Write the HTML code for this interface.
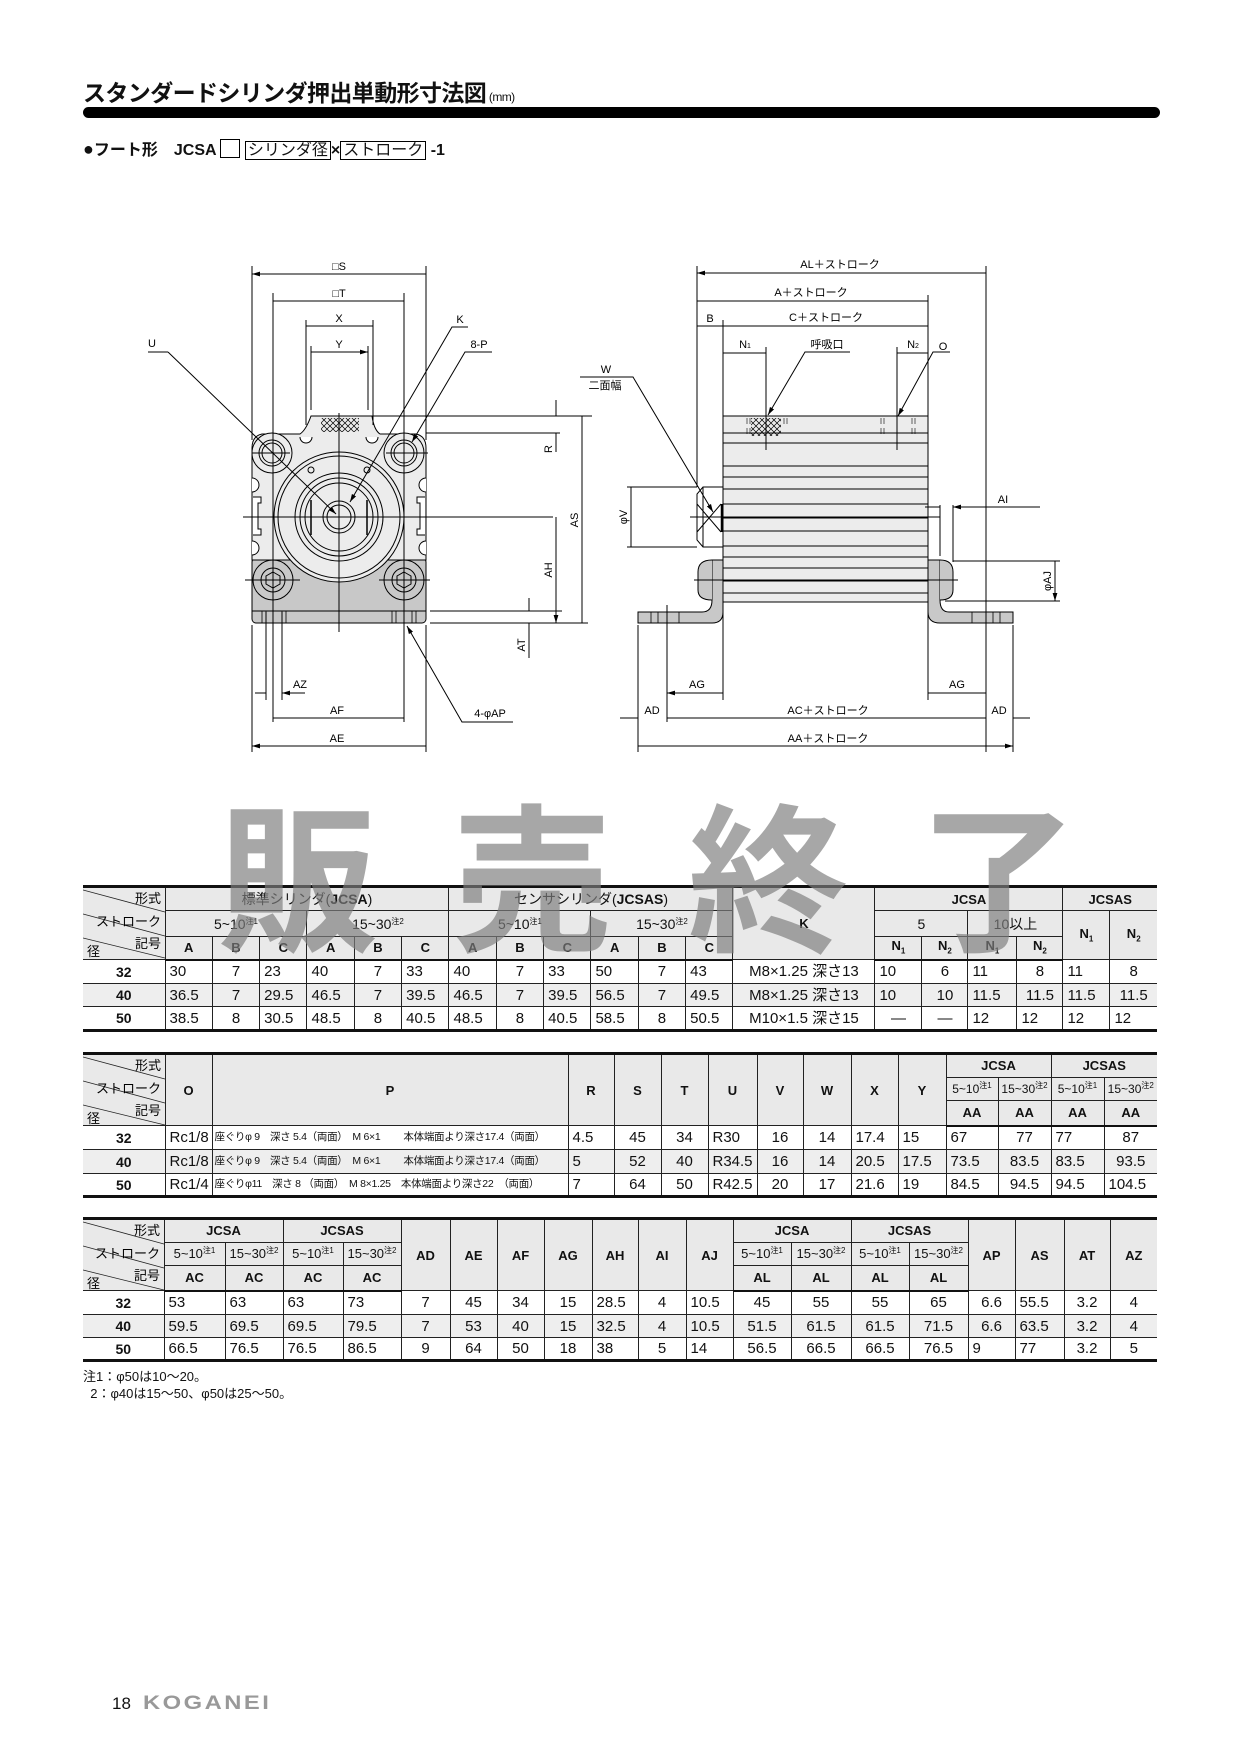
<!DOCTYPE html>
<html><head><meta charset="utf-8"><style>
body{margin:0;background:#fff;}
#pg{position:relative;width:1240px;height:1754px;overflow:hidden;background:#fff;font-family:"Liberation Sans","Noto Sans CJK JP",sans-serif;color:#111;}
.abs{position:absolute;}
table{position:absolute;border-collapse:collapse;table-layout:fixed;font-family:"Liberation Sans","Noto Sans CJK JP",sans-serif;}
td{border:1px solid #222;padding:0 4px;font-size:15px;white-space:nowrap;overflow:hidden;line-height:1;}
tr.h td{background:#e9e9e9;font-weight:bold;font-size:13px;text-align:center;}
tr.h td.n{font-weight:normal;font-size:14px;}
tr.g td{background:#eeeeee;}
td.d{font-weight:bold;text-align:center;font-size:14px;}
td.c{text-align:center;}
td.dg{padding:0;position:relative;background:#e9e9e9;}
td.dg svg{font-weight:normal;}
td.p{font-size:10.5px;letter-spacing:-0.3px;padding:0 2px;}
sup{font-size:8px;vertical-align:5px;}
.t{border-top:3px solid #111;}
.b td{border-bottom:3px solid #111;}
.hb td{border-bottom:2.5px solid #111;}
td:first-child{border-left:none;}
td:last-child{border-right:none;}
.wm{position:absolute;font-family:"Noto Sans CJK JP",sans-serif;font-weight:bold;font-size:160px;line-height:1;color:rgba(125,125,125,0.68);}
</style></head><body><div id="pg">

<div class="abs" style="left:83px;top:74px;font-size:23px;letter-spacing:-0.6px;font-weight:bold;white-space:nowrap;">スタンダードシリンダ押出単動形寸法図<span style="font-size:12px;font-weight:normal;"> (mm)</span></div>
<div class="abs" style="left:83px;top:107px;width:1077px;height:11px;background:#000;border-radius:6px;"></div>
<div class="abs" style="left:83px;top:136px;font-size:16px;font-weight:bold;white-space:nowrap;"><span style="font-size:18px">●</span>フート形　JCSA <span style="display:inline-block;width:18px;height:17px;border:1px solid #000;vertical-align:-3px;"></span> <span style="border:1px solid #000;padding:0 2px;font-weight:normal;">シリンダ径</span>×<span style="border:1px solid #000;padding:0 2px;font-weight:normal;">ストローク</span> -1</div>

<svg class="abs" style="left:0;top:0" width="1240" height="800" viewBox="0 0 1240 800" font-family="Liberation Sans, Noto Sans CJK JP, sans-serif" font-size="11">
<defs>
<marker id="a" viewBox="0 0 10 6" refX="10" refY="3" markerWidth="8" markerHeight="5" orient="auto-start-reverse" markerUnits="userSpaceOnUse"><path d="M0,0L10,3L0,6z" fill="#000"/></marker>
<pattern id="hx" width="6" height="6" patternUnits="userSpaceOnUse"><path d="M0,0L6,6M6,0L0,6" stroke="#000" stroke-width="0.7"/></pattern>
</defs>
<g stroke="#000" stroke-width="1" fill="none">
<!-- LEFT VIEW -->
<rect x="252" y="558" width="174" height="65" fill="#c8c8c8" rx="4"/>
<line x1="252" y1="611" x2="426" y2="611"/>
<path d="M262,611V623M266,611V623M282,611V623M286,611V623M392,611V623M396,611V623M412,611V623M416,611V623" stroke-width="0.8"/>
<path d="M252,448 Q252,436 262,434 L300,434 Q306,430 311,416 L372,416 Q374,430 380,434 L416,434 Q426,436 426,448 L426,560 L252,560 Z" fill="#ececec"/>
<rect x="321" y="418" width="38" height="14" fill="url(#hx)" stroke="none"/>
<path d="M300,437A6,6 0 0 0 312,437" fill="#fff"/><path d="M366,437A6,6 0 0 0 378,437" fill="#fff"/>
<path d="M252,478A7,7 0 0 1 252,492" fill="#fff"/><path d="M426,478A7,7 0 0 0 426,492" fill="#fff"/>
<path d="M252,541A7,7 0 0 1 252,555" fill="#fff"/><path d="M426,541A7,7 0 0 0 426,555" fill="#fff"/>
<path d="M253,497h8v6h-3v26h3v6h-8" fill="#fff"/><path d="M425,497h-8v6h3v26h-3v6h8" fill="#fff"/>
<circle cx="272" cy="453" r="20" fill="#ececec"/><circle cx="272" cy="453" r="13"/><circle cx="272" cy="453" r="10"/>
<circle cx="404" cy="453" r="20" fill="#ececec"/><circle cx="404" cy="453" r="13"/><circle cx="404" cy="453" r="10"/>
<circle cx="273" cy="580" r="20"/><circle cx="273" cy="580" r="12"/><path d="M273,572l7,4v8l-7,4l-7,-4v-8z"/>
<circle cx="404" cy="580" r="20"/><circle cx="404" cy="580" r="12"/><path d="M404,572l7,4v8l-7,4l-7,-4v-8z"/>
<circle cx="339" cy="517" r="65" fill="#ececec"/><circle cx="339" cy="517" r="61"/>
<circle cx="339" cy="517" r="44"/><circle cx="339" cy="517" r="39"/><circle cx="339" cy="517" r="34"/>
<path d="M311,500V535M367,500V535" stroke-width="1.5"/>
<circle cx="339" cy="517" r="16"/><circle cx="339" cy="517" r="12"/>
<circle cx="311" cy="470" r="3"/><circle cx="367" cy="470" r="3"/>
<path d="M243,517H553M339,413V632M252,453H290M386,453H428M245,580H300M379,580H430"/>
<path d="M273,293V722M404,293V722M252,266V440M426,266V440M252,625V752M426,625V752M306,320V425M373,320V425M311,346V410M368,346V410"/>
<path d="M372,416H592M426,433H560M430,623H588M430,611H562M266,612V700M282,612V700"/>
<path d="M252,274H426M273,301H404M306,326H373M311,352H368" marker-start="url(#a)" marker-end="url(#a)"/>
<path d="M252,746H426M273,718H404M582,416V623M556,517V623" marker-start="url(#a)" marker-end="url(#a)"/>
<path d="M556,400V416M556,452V433M529,598V611M529,658V623M255,693H266M305,693H282" marker-end="url(#a)"/>
<path d="M168,352H148"/><path d="M168,352L336,514" marker-end="url(#a)"/>
<path d="M468,327H452L350,502" marker-end="url(#a)"/>
<path d="M492,352H465L412,442" marker-end="url(#a)"/>
<path d="M513,722H462L407,626" marker-end="url(#a)"/>
<!-- RIGHT VIEW -->
<path d="M638,612H702Q712,612 712,600V560H723V612Q723,623 712,623H638Z" fill="#c8c8c8"/>
<path d="M712,560Q698,560 698,572V590Q698,600 712,600" fill="#c8c8c8"/>
<path d="M1013,612H949Q940,612 940,600V560H928V612Q928,623 940,623H1013Z" fill="#c8c8c8"/>
<path d="M940,560Q953,560 953,572V590Q953,600 940,600" fill="#c8c8c8"/>
<path d="M651,612V623M658,612V623M667,612V623M679,612V623M1000,612V623M993,612V623M986,612V623M972,612V623" stroke-width="0.8"/>
<rect x="723" y="416" width="205" height="186" fill="#ececec"/>
<rect x="751" y="418" width="30" height="18" fill="url(#hx)" stroke="none"/>
<path d="M723,433H928M723,443H928M723,466H928M723,477H928M723,489H928M723,504H928M723,518H928M723,531H928M723,546H928M723,557H928M723,568H928M723,581H928M723,593H928"/>
<path d="M747,418v6M750,418v6M747,428v6M750,428v6M784,418v6M787,418v6M881,418v6M884,418v6M881,428v6M884,428v6M912,418v6M915,418v6M912,428v6M915,428v6" stroke-width="0.6"/>
<path d="M703,487H723V547H703L697,540V494Z" fill="#fff"/>
<path d="M703,487V547M697,504L721,532M697,532L721,504"/><path d="M722,504V532" stroke-width="2.5"/>
<path d="M690,517H940M694,580H958"/>
<path d="M697,266V487M986,266V752M928,295V416M723,320V416M766,347V450M897,347V450M627,487H697M627,547H697"/>
<path d="M940,505V556M953,505V562M953,561H1060M945,601H1060M667,605V722M723,602V700M928,602V700M638,625V752M1013,625V752"/>
<path d="M697,273H986M697,301H928M723,326H928M697,326H723M723,353H766M897,353H928M631,487V547M1055,561V601" marker-start="url(#a)" marker-end="url(#a)"/>
<path d="M667,693H723M928,693H986M667,718H986M638,746H1013" marker-start="url(#a)" marker-end="url(#a)"/>
<path d="M620,718H638M1030,718H1013M925,507H940M1040,507H953" marker-end="url(#a)"/>
<path d="M850,352H805L768,415" marker-end="url(#a)"/>
<path d="M950,352H933L898,416" marker-end="url(#a)"/>
<path d="M580,377H633L713,512" marker-end="url(#a)"/>
</g>
<g fill="#000" text-anchor="middle">
<text x="339" y="270">□S</text><text x="339" y="297">□T</text><text x="339" y="322">X</text><text x="339" y="348">Y</text>
<text x="152" y="347">U</text><text x="460" y="323">K</text><text x="479" y="348">8-P</text><text x="490" y="717">4-φAP</text>
<text x="300" y="688">AZ</text><text x="337" y="714">AF</text><text x="337" y="742">AE</text>
<text transform="translate(552,449) rotate(-90)">R</text>
<text transform="translate(578,520) rotate(-90)">AS</text>
<text transform="translate(552,570) rotate(-90)">AH</text>
<text transform="translate(525,645) rotate(-90)">AT</text>
<text x="840" y="268">AL＋ストローク</text><text x="811" y="296">A＋ストローク</text><text x="826" y="321">C＋ストローク</text>
<text x="710" y="322">B</text><text x="745" y="348">N<tspan font-size="7">1</tspan></text><text x="913" y="348">N<tspan font-size="7">2</tspan></text>
<text x="827" y="348">呼吸口</text><text x="943" y="350">O</text>
<text x="606" y="373">W</text><text x="605" y="389">二面幅</text>
<text x="1003" y="503">AI</text>
<text transform="translate(627,517) rotate(-90)">φV</text>
<text transform="translate(1051,581) rotate(-90)">φAJ</text>
<text x="697" y="688">AG</text><text x="957" y="688">AG</text>
<text x="652" y="714">AD</text><text x="999" y="714">AD</text>
<text x="828" y="714">AC＋ストローク</text><text x="828" y="742">AA＋ストローク</text>
</g>
</svg>

<!-- TABLE 1 -->
<table style="left:83px;top:885px;width:1074px;">
<colgroup><col style="width:82px"><col span="12" style="width:47.33px"><col style="width:142px"><col style="width:47px"><col style="width:46px"><col style="width:49px"><col style="width:46px"><col style="width:47px"><col style="width:47px"></colgroup>
<tr class="h t" style="height:24px"><td class="dg" rowspan="3"><svg width="82" height="71" style="display:block" font-size="13" font-family="Liberation Sans, Noto Sans CJK JP, sans-serif"><path d="M0,2L82,24M0,26L82,48M0,50L82,70" stroke="#222" stroke-width="0.8"/><text x="78" y="15" text-anchor="end">形式</text><text x="78" y="38" text-anchor="end">ストローク</text><text x="78" y="60" text-anchor="end">記号</text><text x="4" y="68">径</text></svg></td><td class="n" colspan="6">標準シリンダ(<b>JCSA</b>)</td><td class="n" colspan="6">センサシリンダ(<b>JCSAS</b>)</td><td rowspan="3">K</td><td colspan="4">JCSA</td><td colspan="2">JCSAS</td></tr>
<tr class="h" style="height:24px"><td class="n" colspan="3">5~10<sup>注1</sup></td><td class="n" colspan="3">15~30<sup>注2</sup></td><td class="n" colspan="3">5~10<sup>注1</sup></td><td class="n" colspan="3">15~30<sup>注2</sup></td><td class="n" colspan="2">5</td><td class="n" colspan="2">10以上</td><td rowspan="2">N<sub style="font-size:8px">1</sub></td><td rowspan="2">N<sub style="font-size:8px">2</sub></td></tr>
<tr class="h hb" style="height:23px"><td>A</td><td>B</td><td>C</td><td>A</td><td>B</td><td>C</td><td>A</td><td>B</td><td>C</td><td>A</td><td>B</td><td>C</td><td>N<sub style="font-size:8px">1</sub></td><td>N<sub style="font-size:8px">2</sub></td><td>N<sub style="font-size:8px">1</sub></td><td>N<sub style="font-size:8px">2</sub></td></tr>
<tr style="height:24px"><td class="d">32</td><td>30</td><td class="c">7</td><td>23</td><td>40</td><td class="c">7</td><td>33</td><td>40</td><td class="c">7</td><td>33</td><td>50</td><td class="c">7</td><td>43</td><td class="c">M8×1.25 深さ13</td><td>10</td><td class="c">6</td><td>11</td><td class="c">8</td><td>11</td><td class="c">8</td></tr>
<tr class="g" style="height:23px"><td class="d">40</td><td>36.5</td><td class="c">7</td><td>29.5</td><td>46.5</td><td class="c">7</td><td>39.5</td><td>46.5</td><td class="c">7</td><td>39.5</td><td>56.5</td><td class="c">7</td><td>49.5</td><td class="c">M8×1.25 深さ13</td><td>10</td><td class="c">10</td><td>11.5</td><td class="c">11.5</td><td>11.5</td><td class="c">11.5</td></tr>
<tr class="b" style="height:24px"><td class="d">50</td><td>38.5</td><td class="c">8</td><td>30.5</td><td>48.5</td><td class="c">8</td><td>40.5</td><td>48.5</td><td class="c">8</td><td>40.5</td><td>58.5</td><td class="c">8</td><td>50.5</td><td class="c">M10×1.5 深さ15</td><td class="c">—</td><td class="c">—</td><td>12</td><td>12</td><td>12</td><td>12</td></tr>
</table>

<!-- TABLE 2 -->
<table style="left:83px;top:1052px;width:1074px;">
<colgroup><col style="width:82px"><col style="width:47px"><col style="width:356px"><col style="width:46px"><col style="width:47px"><col style="width:47px"><col style="width:49px"><col style="width:46px"><col style="width:48px"><col style="width:47px"><col style="width:48px"><col style="width:52px"><col style="width:53px"><col style="width:53px"><col style="width:53px"></colgroup>
<tr class="h t" style="height:23px"><td class="dg" rowspan="3"><svg width="82" height="70" style="display:block" font-size="13" font-family="Liberation Sans, Noto Sans CJK JP, sans-serif"><path d="M0,2L82,24M0,26L82,48M0,50L82,70" stroke="#222" stroke-width="0.8"/><text x="78" y="15" text-anchor="end">形式</text><text x="78" y="38" text-anchor="end">ストローク</text><text x="78" y="60" text-anchor="end">記号</text><text x="4" y="68">径</text></svg></td><td rowspan="3">O</td><td rowspan="3">P</td><td rowspan="3">R</td><td rowspan="3">S</td><td rowspan="3">T</td><td rowspan="3">U</td><td rowspan="3">V</td><td rowspan="3">W</td><td rowspan="3">X</td><td rowspan="3">Y</td><td colspan="2">JCSA</td><td colspan="2">JCSAS</td></tr>
<tr class="h" style="height:23px"><td class="n" style="font-size:12px;padding:0">5~10<sup>注1</sup></td><td class="n" style="font-size:12px;padding:0">15~30<sup>注2</sup></td><td class="n" style="font-size:12px;padding:0">5~10<sup>注1</sup></td><td class="n" style="font-size:12px;padding:0">15~30<sup>注2</sup></td></tr>
<tr class="h hb" style="height:24px"><td>AA</td><td>AA</td><td>AA</td><td>AA</td></tr>
<tr style="height:24px"><td class="d">32</td><td>Rc1/8</td><td class="p">座ぐりφ 9　深さ 5.4（両面）　M 6×1　　 本体端面より深さ17.4（両面）</td><td>4.5</td><td class="c">45</td><td class="c">34</td><td>R30</td><td class="c">16</td><td class="c">14</td><td>17.4</td><td>15</td><td>67</td><td class="c">77</td><td>77</td><td class="c">87</td></tr>
<tr class="g" style="height:24px"><td class="d">40</td><td>Rc1/8</td><td class="p">座ぐりφ 9　深さ 5.4（両面）　M 6×1　　 本体端面より深さ17.4（両面）</td><td>5</td><td class="c">52</td><td class="c">40</td><td>R34.5</td><td class="c">16</td><td class="c">14</td><td>20.5</td><td>17.5</td><td>73.5</td><td class="c">83.5</td><td>83.5</td><td class="c">93.5</td></tr>
<tr class="b" style="height:23px"><td class="d">50</td><td>Rc1/4</td><td class="p">座ぐりφ11　深さ 8 （両面）　M 8×1.25　本体端面より深さ22　（両面）</td><td>7</td><td class="c">64</td><td class="c">50</td><td>R42.5</td><td class="c">20</td><td class="c">17</td><td>21.6</td><td>19</td><td>84.5</td><td class="c">94.5</td><td>94.5</td><td>104.5</td></tr>
</table>

<!-- TABLE 3 -->
<table style="left:83px;top:1217px;width:1074px;">
<colgroup><col style="width:81px"><col style="width:61px"><col style="width:58px"><col style="width:60px"><col style="width:58px"><col style="width:49px"><col style="width:47px"><col style="width:47px"><col style="width:48px"><col style="width:46px"><col style="width:48px"><col style="width:47px"><col style="width:58px"><col style="width:60px"><col style="width:58px"><col style="width:59px"><col style="width:47px"><col style="width:49px"><col style="width:46px"><col style="width:47px"></colgroup>
<tr class="h t" style="height:23px"><td class="dg" rowspan="3"><svg width="81" height="70" style="display:block" font-size="13" font-family="Liberation Sans, Noto Sans CJK JP, sans-serif"><path d="M0,2L81,24M0,26L81,48M0,50L81,70" stroke="#222" stroke-width="0.8"/><text x="77" y="15" text-anchor="end">形式</text><text x="77" y="38" text-anchor="end">ストローク</text><text x="77" y="60" text-anchor="end">記号</text><text x="4" y="68">径</text></svg></td><td colspan="2">JCSA</td><td colspan="2">JCSAS</td><td rowspan="3">AD</td><td rowspan="3">AE</td><td rowspan="3">AF</td><td rowspan="3">AG</td><td rowspan="3">AH</td><td rowspan="3">AI</td><td rowspan="3">AJ</td><td colspan="2">JCSA</td><td colspan="2">JCSAS</td><td rowspan="3">AP</td><td rowspan="3">AS</td><td rowspan="3">AT</td><td rowspan="3">AZ</td></tr>
<tr class="h" style="height:23px"><td class="n" style="font-size:13px;padding:0">5~10<sup>注1</sup></td><td class="n" style="font-size:13px;padding:0">15~30<sup>注2</sup></td><td class="n" style="font-size:13px;padding:0">5~10<sup>注1</sup></td><td class="n" style="font-size:13px;padding:0">15~30<sup>注2</sup></td><td class="n" style="font-size:13px;padding:0">5~10<sup>注1</sup></td><td class="n" style="font-size:13px;padding:0">15~30<sup>注2</sup></td><td class="n" style="font-size:13px;padding:0">5~10<sup>注1</sup></td><td class="n" style="font-size:13px;padding:0">15~30<sup>注2</sup></td></tr>
<tr class="h hb" style="height:24px"><td>AC</td><td>AC</td><td>AC</td><td>AC</td><td>AL</td><td>AL</td><td>AL</td><td>AL</td></tr>
<tr style="height:24px"><td class="d">32</td><td>53</td><td>63</td><td>63</td><td>73</td><td class="c">7</td><td class="c">45</td><td class="c">34</td><td class="c">15</td><td>28.5</td><td class="c">4</td><td>10.5</td><td class="c">45</td><td class="c">55</td><td class="c">55</td><td class="c">65</td><td class="c">6.6</td><td>55.5</td><td class="c">3.2</td><td class="c">4</td></tr>
<tr class="g" style="height:23px"><td class="d">40</td><td>59.5</td><td>69.5</td><td>69.5</td><td>79.5</td><td class="c">7</td><td class="c">53</td><td class="c">40</td><td class="c">15</td><td>32.5</td><td class="c">4</td><td>10.5</td><td class="c">51.5</td><td class="c">61.5</td><td class="c">61.5</td><td class="c">71.5</td><td class="c">6.6</td><td>63.5</td><td class="c">3.2</td><td class="c">4</td></tr>
<tr class="b" style="height:23px"><td class="d">50</td><td>66.5</td><td>76.5</td><td>76.5</td><td>86.5</td><td class="c">9</td><td class="c">64</td><td class="c">50</td><td class="c">18</td><td>38</td><td class="c">5</td><td>14</td><td class="c">56.5</td><td class="c">66.5</td><td class="c">66.5</td><td class="c">76.5</td><td>9</td><td>77</td><td class="c">3.2</td><td class="c">5</td></tr>
</table>

<div class="abs" style="left:83px;top:1368px;font-size:13px;line-height:17px;white-space:pre;">注1：φ50は10～20。
  2：φ40は15～50、φ50は25～50。</div>

<div class="wm" style="left:218px;top:790px;">販</div>
<div class="wm" style="left:452px;top:790px;">売</div>
<div class="wm" style="left:688px;top:790px;">終</div>
<div class="wm" style="left:918px;top:790px;">了</div>

<div class="abs" style="left:112px;top:1694px;font-size:17px;">18</div>
<div class="abs" style="left:143px;top:1693px;font-size:19px;font-weight:bold;color:#999;letter-spacing:2px;transform:scaleX(1.25);transform-origin:left;">KOGANEI</div>
</div></body></html>
